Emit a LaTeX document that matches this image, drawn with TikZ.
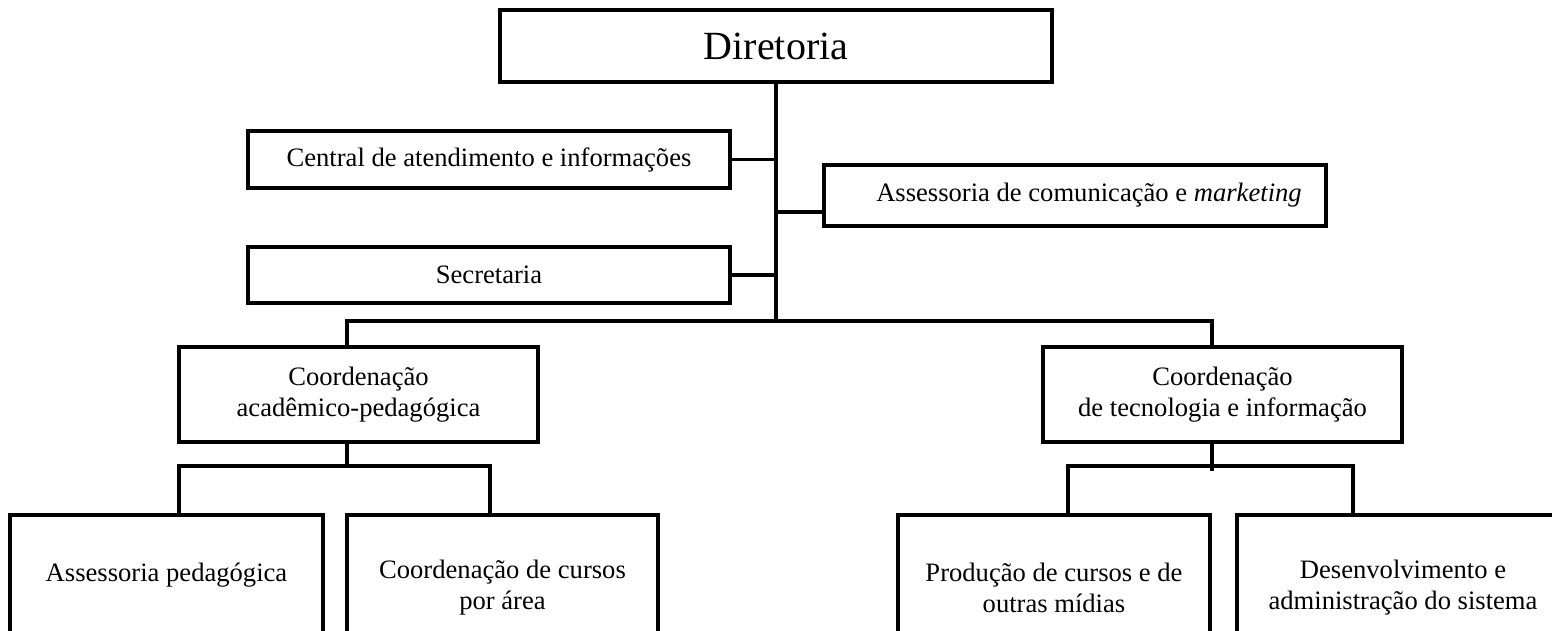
\documentclass[tikz,border=0pt]{standalone}
\usepackage{fontspec}
\setmainfont{Liberation Serif}
\usetikzlibrary{positioning, calc}

\tikzset{
  orgbox/.style={draw, line width=1.6pt, align=center, inner sep=2pt, font=\fontsize{13.3}{15.5}\selectfont},
  link/.style={line width=1.6pt}
}

\begin{document}
\begin{tikzpicture}[x=0.5pt, y=-0.5pt]
	\useasboundingbox (0,0) rectangle (1552,631);
	\clip (0,0) rectangle (1552,631);
	% top level
	\node (dir) [orgbox, minimum width=276pt, minimum height=36pt, font=\fontsize{20}{24}\selectfont] at (776,46) {Diretoria};
	\node (cent) [orgbox, minimum width=241pt, minimum height=28.5pt] at (489,159.5) {Central de atendimento e informações};
	\node (secr) [orgbox, minimum width=241pt, minimum height=28pt] at (489,275) {Secretaria};
	\node (asse) [orgbox, minimum width=251pt, minimum height=30.5pt] at (1075,195.5) {\hspace*{14pt}Assessoria de comunicação e \textit{marketing}};
	% coordinations
	\node (ca) [orgbox, minimum width=179.5pt, minimum height=47.5pt] at (358.5,394.5) {Coordenação\\acadêmico-pedagógica};
	\node (ct) [orgbox, minimum width=179.5pt, minimum height=47.5pt] at (1222.5,394.5) {Coordenação\\de tecnologia e informação};
	% bottom row
	\node (ap) [orgbox, minimum width=156.5pt, minimum height=73pt] at (166.5,588) {Assessoria pedagógica\\\mbox{}};
	\node (cc) [orgbox, minimum width=155.5pt, minimum height=73pt] at (502.5,588) {Coordenação de cursos\\por área};
	\node (pc) [orgbox, minimum width=156pt, minimum height=73pt] at (1054,588) {Produção de cursos e de\\outras mídias};
	\node (ds) [orgbox, minimum width=166pt, minimum height=73pt] at (1403,588) {Desenvolvimento e\\administração do sistema};

	\coordinate (hub) at (776,321);
	\coordinate (asin) at (824,212);
	\coordinate (lbar) at (347,321);
	\coordinate (rbar) at (1212,321);
	\coordinate (apin) at (179,466);
	\coordinate (ccin) at (490,466);
	\coordinate (pcin) at (1068,466);
	\coordinate (dsin) at (1353,466);

	\draw [link] (dir.south) -- (hub);
	\draw [link] (cent.east) -- (cent.east -| hub);
	\draw [link] (secr.east) -- (secr.east -| hub);
	\draw [link] (asin) -- (asin -| hub);
	\draw [link] (lbar |- ca.north) -- (lbar) -- (rbar) -- (rbar |- ct.north);

	\draw [link] (lbar |- ca.south) -- (lbar |- apin);
	\draw [link] (apin |- ap.north) -- (apin) -- (ccin) -- (ccin |- cc.north);
	\draw [link] (rbar |- ct.south) -- ($(rbar |- pcin)+(0,5)$);
	\draw [link] (pcin |- pc.north) -- (pcin) -- (dsin) -- (dsin |- ds.north);
\end{tikzpicture}
\end{document}
